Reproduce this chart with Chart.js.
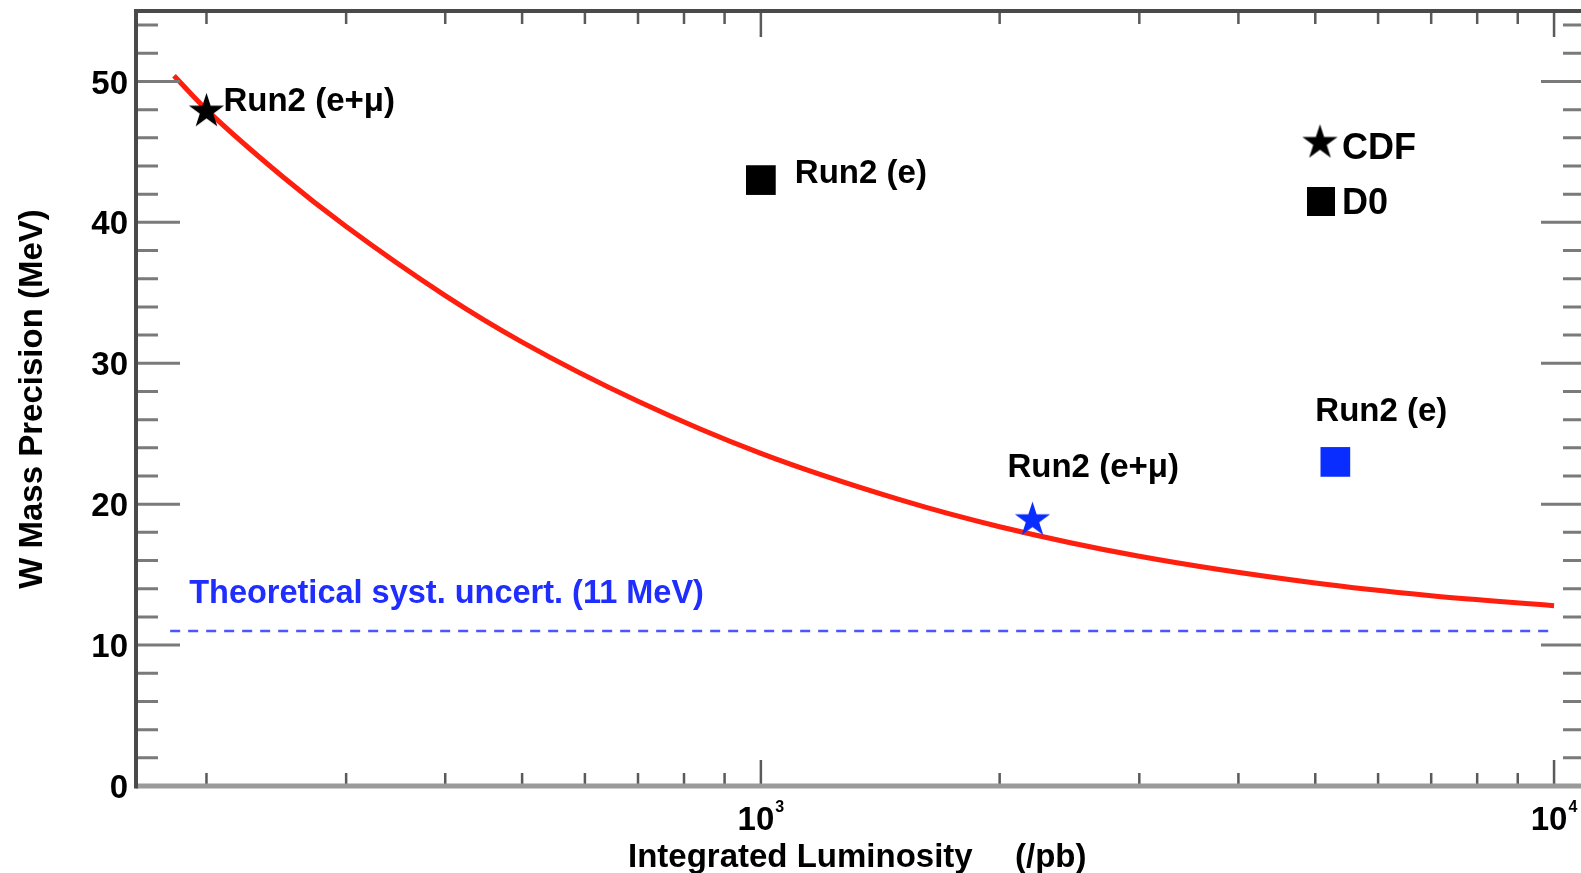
<!DOCTYPE html>
<html>
<head>
<meta charset="utf-8">
<title>W Mass Precision vs Integrated Luminosity</title>
<script src="https://cdn.jsdelivr.net/npm/chart.js@4.4.1/dist/chart.umd.min.js"></script>
<style>
  html, body { margin: 0; padding: 0; background: #ffffff; overflow: hidden; }
  #wrap { width: 1600px; height: 873px; }
</style>
</head>
<body>
<div id="wrap"><canvas id="chart" width="1600" height="873"></canvas></div>
<script>
// ---- data -------------------------------------------------------------
// Projected precision curve (MeV) versus integrated luminosity (/pb)
const curveLumi      = [182, 200, 250, 300, 400, 500, 700, 1000, 1500, 2000, 3000, 5000, 7000, 10000];
const curvePrecision = [50.4, 48.0, 43.2, 39.7, 34.8, 31.5, 27.3, 23.6, 20.3, 18.4, 16.3, 14.4, 13.5, 12.8];

// Theoretical systematic uncertainty floor
const theoryLumi      = [180, 10000];
const theoryPrecision = [11, 11];

// CDF measurements / projections (stars)
const cdfLumi      = [200, 2200];
const cdfPrecision = [48, 19];
const cdfLabels    = ['Run2 (e+\u03bc)', 'Run2 (e+\u03bc)'];

// D0 measurements / projections (squares)
const d0Lumi      = [1000, 5300];
const d0Precision = [43, 23];
const d0Labels    = ['Run2 (e)', 'Run2 (e)'];

// Axis ticks
const xMajorTicks = [1000, 10000];
const xMinorTicks = [200, 300, 400, 500, 600, 700, 800, 900, 2000, 3000, 4000, 5000, 6000, 7000, 8000, 9000];
const yMajorTicks = [0, 10, 20, 30, 40, 50];
const yMinorTicks = [2, 4, 6, 8, 12, 14, 16, 18, 22, 24, 26, 28, 32, 34, 36, 38, 42, 44, 46, 48, 52, 54];

const legendNames = ['CDF', 'D0'];
const theoryText  = 'Theoretical syst. uncert. (11 MeV)';
const xTitle = 'Integrated Luminosity';
const xUnit  = '(/pb)';
const yTitle = 'W Mass Precision (MeV)';

// ---- styles -----------------------------------------------------------
const BLACK = '#000000';
const BLUE  = '#0a2dff';
const RED   = '#ff1f0f';
const FONT  = "'Liberation Sans', Arial, Helvetica, sans-serif";

// filled five-pointed star marker rendered to a small canvas
function makeStar(color, R) {
  const size = Math.ceil(R * 2 + 4);
  const c = document.createElement('canvas');
  c.width = size; c.height = size;
  const g = c.getContext('2d');
  const cx = size / 2;
  const cy = size / 2 + 0.0955 * R;   // centre the bounding box
  const r = R * 0.382;
  g.beginPath();
  for (let i = 0; i < 10; i++) {
    const rad = (i % 2 === 0) ? R : r;
    const a = -Math.PI / 2 + i * Math.PI / 5;
    const px = cx + rad * Math.cos(a), py = cy + rad * Math.sin(a);
    if (i === 0) g.moveTo(px, py); else g.lineTo(px, py);
  }
  g.closePath();
  g.fillStyle = color;
  g.fill();
  return c;
}

const markerColors = [BLACK, BLUE];
const starImgs = markerColors.map(c => makeStar(c, 18.5));

// ---- plugin: frame, inward ticks, labels, annotations ----------------
const decorations = {
  id: 'decorations',
  afterDraw(chart) {
    const ctx = chart.ctx;
    const xs = chart.scales.x, ys = chart.scales.y;
    const a = chart.chartArea;
    ctx.save();

    // ticks on the y axis (left and right, pointing inward)
    ctx.lineCap = 'butt';
    ctx.strokeStyle = '#7a7a7a';
    ctx.lineWidth = 3;
    const drawY = (v, len) => {
      const y = ys.getPixelForValue(v);
      ctx.beginPath();
      ctx.moveTo(a.left, y); ctx.lineTo(a.left + len, y);
      ctx.moveTo(a.right, y); ctx.lineTo(a.right - len, y);
      ctx.stroke();
    };
    yMinorTicks.forEach(v => drawY(v, 22));
    yMajorTicks.forEach(v => drawY(v, 44));

    // ticks on the x axis (bottom and top, pointing inward)
    ctx.lineWidth = 2.5;
    ctx.strokeStyle = '#5a5a5a';
    const drawX = (v, len) => {
      const x = xs.getPixelForValue(v);
      ctx.beginPath();
      ctx.moveTo(x, a.bottom); ctx.lineTo(x, a.bottom - len);
      ctx.moveTo(x, a.top); ctx.lineTo(x, a.top + len);
      ctx.stroke();
    };
    xMinorTicks.forEach(v => drawX(v, 13));
    xMajorTicks.forEach(v => drawX(v, 26));

    // frame
    ctx.lineWidth = 5;
    ctx.strokeStyle = '#9a9a9a';
    ctx.beginPath(); ctx.moveTo(a.left, a.bottom); ctx.lineTo(a.right, a.bottom); ctx.stroke();
    ctx.lineWidth = 4;
    ctx.strokeStyle = '#4a4a4a';
    ctx.beginPath(); ctx.moveTo(a.left, a.top); ctx.lineTo(a.right, a.top); ctx.stroke();
    ctx.beginPath(); ctx.moveTo(a.left, a.top - 2); ctx.lineTo(a.left, a.bottom + 2.5); ctx.stroke();
    ctx.beginPath(); ctx.moveTo(a.right, a.top - 2); ctx.lineTo(a.right, a.bottom + 2.5); ctx.stroke();

    // y tick labels
    ctx.fillStyle = '#000';
    ctx.font = 'bold 33px ' + FONT;
    ctx.textAlign = 'right';
    ctx.textBaseline = 'middle';
    yMajorTicks.forEach(v => ctx.fillText(String(v), a.left - 8, ys.getPixelForValue(v) + 3));

    // x tick labels as 10^n
    xMajorTicks.forEach(v => {
      const x = xs.getPixelForValue(v);
      const exp = String(Math.round(Math.log10(v)));
      ctx.font = 'bold 33px ' + FONT;
      const wb = ctx.measureText('10').width;
      ctx.font = 'bold 16px ' + FONT;
      const we = ctx.measureText(exp).width;
      const left = x - (wb + we + 1) / 2;
      ctx.textAlign = 'left';
      ctx.textBaseline = 'alphabetic';
      ctx.font = 'bold 33px ' + FONT;
      ctx.fillText('10', left, 830);
      ctx.font = 'bold 16px ' + FONT;
      ctx.fillText(exp, left + wb + 1, 812);
    });

    // axis titles
    ctx.font = 'bold 33px ' + FONT;
    ctx.textAlign = 'left';
    ctx.textBaseline = 'alphabetic';
    ctx.fillText(xTitle, 628, 867);
    ctx.fillText(xUnit, 1015, 867);
    ctx.save();
    ctx.translate(42, 399);
    ctx.rotate(-Math.PI / 2);
    ctx.textAlign = 'center';
    ctx.fillText(yTitle, 0, 0);
    ctx.restore();

    // point annotations
    const labelOffsets = {
      cdf: [[17, 1], [-25, -41]],
      d0:  [[34, 3], [-20, -41]]
    };
    ctx.textAlign = 'left';
    ctx.textBaseline = 'alphabetic';
    ctx.font = 'bold 33px ' + FONT;
    ctx.fillStyle = '#000';
    cdfLumi.forEach((L, i) => {
      const px = xs.getPixelForValue(L), py = ys.getPixelForValue(cdfPrecision[i]);
      ctx.fillText(cdfLabels[i], px + labelOffsets.cdf[i][0], py + labelOffsets.cdf[i][1]);
    });
    d0Lumi.forEach((L, i) => {
      const px = xs.getPixelForValue(L), py = ys.getPixelForValue(d0Precision[i]);
      ctx.fillText(d0Labels[i], px + labelOffsets.d0[i][0], py + labelOffsets.d0[i][1]);
    });

    // theoretical floor label
    ctx.fillStyle = '#1f2dff';
    ctx.font = 'bold 32.5px ' + FONT;
    const tx = xs.getPixelForValue(theoryLumi[0]);
    const ty = ys.getPixelForValue(theoryPrecision[0]);
    ctx.fillText(theoryText, tx + 19, ty - 28);

    // legend
    ctx.fillStyle = '#000';
    ctx.font = 'bold 36px ' + FONT;
    const star = starImgs[0];
    ctx.drawImage(star, 1320 - star.width / 2, 141 - star.height / 2);
    ctx.fillText(legendNames[0], 1342, 159);
    ctx.fillRect(1307, 187, 28, 29);
    ctx.fillText(legendNames[1], 1342, 214);

    ctx.restore();
  }
};

// ---- chart ------------------------------------------------------------
const toPts = (xsArr, ysArr) => xsArr.map((x, i) => ({ x: x, y: ysArr[i] }));

new Chart(document.getElementById('chart'), {
  type: 'scatter',
  data: {
    datasets: [
      {
        label: 'CDF',
        data: toPts(cdfLumi, cdfPrecision),
        pointStyle: starImgs,
        pointRadius: 18,
        showLine: false
      },
      {
        label: 'D0',
        data: toPts(d0Lumi, d0Precision),
        pointStyle: 'rect',
        pointRadius: 21,
        pointBorderWidth: 0,
        pointBackgroundColor: markerColors,
        showLine: false
      },
      {
        label: 'projection',
        data: toPts(curveLumi, curvePrecision),
        showLine: true,
        borderColor: RED,
        borderWidth: 5,
        pointRadius: 0,
        cubicInterpolationMode: 'monotone',
        fill: false
      },
      {
        label: 'theory',
        data: toPts(theoryLumi, theoryPrecision),
        showLine: true,
        borderColor: '#4b55ff',
        borderWidth: 2.5,
        borderDash: [10, 8],
        pointRadius: 0,
        fill: false
      }
    ]
  },
  options: {
    responsive: false,
    devicePixelRatio: 1,
    animation: false,
    events: [],
    layout: { autoPadding: false, padding: { left: 136, right: 15, top: 11, bottom: 87 } },
    plugins: { legend: { display: false }, tooltip: { enabled: false }, title: { display: false } },
    scales: {
      x: { type: 'logarithmic', min: 163, max: 10940, display: false },
      y: { type: 'linear', min: 0, max: 55, display: false }
    }
  },
  plugins: [decorations]
});
</script>
</body>
</html>
